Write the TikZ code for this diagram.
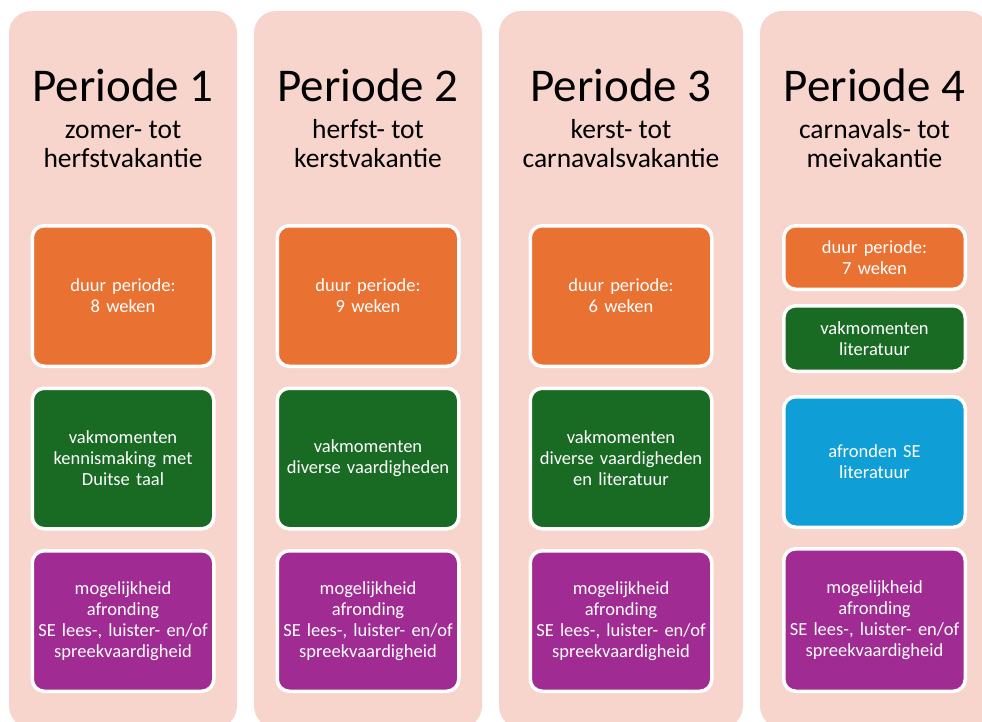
\documentclass[tikz,border=0pt]{standalone}
\usepackage{fontspec}
\setmainfont{Carlito}
\definecolor{periodbg}{HTML}{F7D5CC}
\definecolor{duurorange}{HTML}{E97132}
\definecolor{vakgreen}{HTML}{196B24}
\definecolor{afrblue}{HTML}{0F9ED5}
\definecolor{sepurple}{HTML}{A02B93}
\newcommand{\sevaardig}{mogelijkheid\\afronding\\SE lees-, luister- en/of\\spreekvaardigheid}

\begin{document}
\begin{tikzpicture}[x=1pt, y=-1pt,
    period/.style={fill=periodbg, rounded corners=22pt, minimum height=717, inner sep=0pt},
    title/.style={inner sep=0pt, font=\fontsize{47}{56}\selectfont},
    sub/.style={inner sep=0pt, align=center, font=\fontsize{27.5}{29}\selectfont},
    block/.style={draw=white, line width=3.5pt, rounded corners=12pt, minimum width=181.5,
        text width=175pt, align=center, text=white, inner sep=0pt,
        font=\fontsize{18.5}{21}\selectfont}]

    \useasboundingbox (0,0) rectangle (982,721);
    \clip (0,0) rectangle (982,721);

    \foreach \s/\x/\w/\a/\b in {1/123/228/zomer/herfstvakantie, 2/368/228/herfst/kerstvakantie,
                                3/621/244/kerst/carnavalsvakantie, 4/874.5/229/carnavals/meivakantie} {
        \node[period, minimum width=\w] (per\s) at (\x,369.5) {};
        \node[title, anchor=base] (tit\s) at (\x,101) {Periode \s};
        \node[sub, anchor=base] (sub\s) at (\x,167) {\a- tot\\\b};
    }

    \foreach \s/\x/\n/\v in {1/123/8/{vakmomenten\\kennismaking met\\Duitse taal},
                             2/368/9/{vakmomenten\\diverse vaardigheden},
                             3/621/6/{vakmomenten\\diverse vaardigheden\\en literatuur}} {
        \node[block, fill=duurorange, minimum height=140.5] (duur\s) at (\x,296) {duur periode:\\\n{} weken};
        \node[block, fill=vakgreen, minimum height=140.5] (vak\s) at (\x,458.5) {\v};
        \node[block, fill=sepurple, minimum height=140.5] (se\s) at (\x,621) {\sevaardig};
    }

    \node[block, fill=duurorange, minimum height=63.5] (duur4) at (874.5,257.5) {duur periode:\\7 weken};
    \node[block, fill=vakgreen, minimum height=65.5] (vak4) at (874.5,338.5) {vakmomenten\\literatuur};
    \node[block, fill=afrblue, minimum height=130.5] (afr4) at (874.5,462) {afronden SE\\literatuur};
    \node[block, fill=sepurple, minimum height=142.5] (se4) at (874.5,620) {\sevaardig};

\end{tikzpicture}
\end{document}
